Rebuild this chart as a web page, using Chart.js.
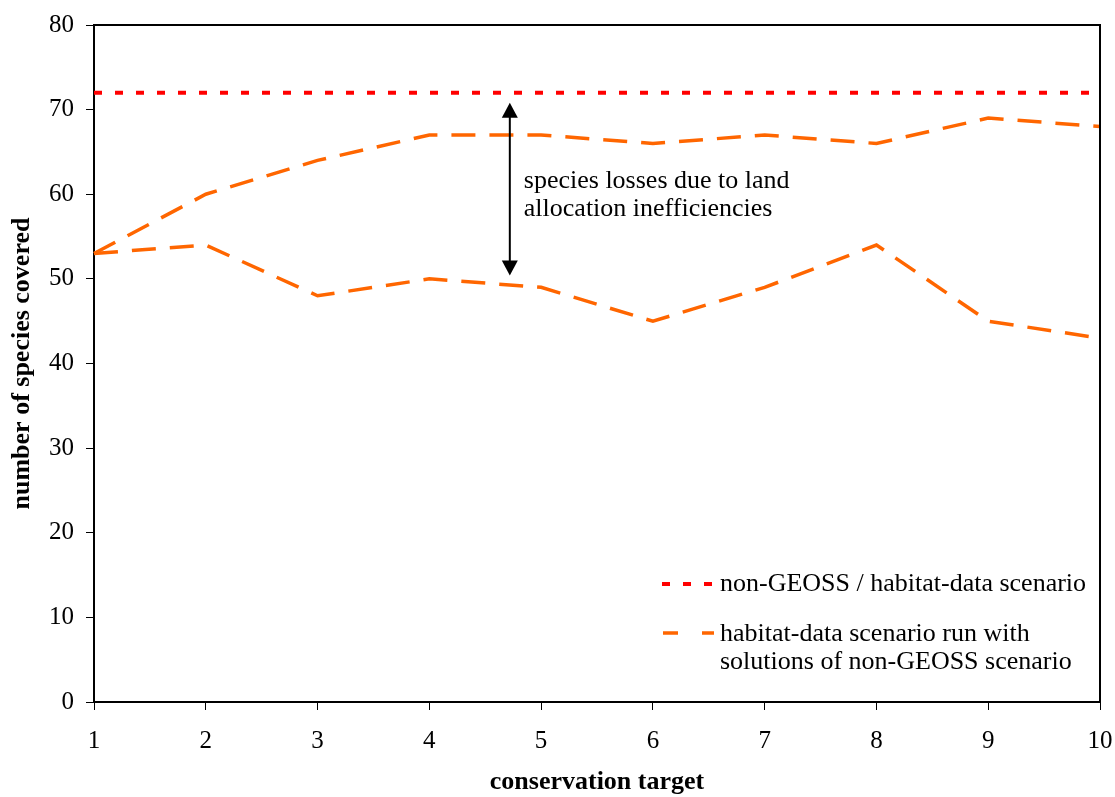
<!DOCTYPE html>
<html>
<head>
<meta charset="utf-8">
<script src="https://cdn.jsdelivr.net/npm/chart.js@4/dist/chart.umd.min.js"></script>
<style>
  html, body { margin: 0; padding: 0; background: #fff; overflow: hidden; }
  #wrap { width: 1115px; height: 797px; }
  canvas { display: block; }
</style>
</head>
<body>
<div id="wrap"><canvas id="chart"></canvas></div>
<script>
// --- DATA ---
const targets = ['1', '2', '3', '4', '5', '6', '7', '8', '9', '10'];
const nonGeoss = [72, 72, 72, 72, 72, 72, 72, 72, 72, 72];
const habitatUpper = [53, 60, 64, 67, 67, 66, 67, 66, 69, 68];
const habitatLower = [53, 54, 48, 50, 49, 45, 49, 54, 45, 43];
const yTicks = [0, 10, 20, 30, 40, 50, 60, 70, 80];

// annotation arrow, in data units
const arrowX = 4.72;
const arrowTop = 70.8;
const arrowBottom = 50.4;

const RED = '#ff0000';
const ORANGE = '#ff6600';
const FONT = '"Liberation Serif", "Times New Roman", serif';

// --- PLUGIN: frame, arrow, note, legend, titles ---
const decor = {
    id: 'decor',
    afterDraw(chart) {
        const { ctx, chartArea: a, scales: { x, y } } = chart;
        ctx.save();

        // box round plot area
        ctx.strokeStyle = '#000';
        ctx.lineWidth = 2;
        ctx.beginPath();
        ctx.moveTo(a.left, a.top);
        ctx.lineTo(a.right, a.top);
        ctx.lineTo(a.right, a.bottom);
        ctx.stroke();

        // double arrow
        const xi = x.getPixelForValue(0) + (arrowX - 1) * (x.getPixelForValue(1) - x.getPixelForValue(0));
        const yt = y.getPixelForValue(arrowTop);
        const yb = y.getPixelForValue(arrowBottom);
        ctx.lineWidth = 2;
        ctx.beginPath();
        ctx.moveTo(xi, yt + 10);
        ctx.lineTo(xi, yb - 10);
        ctx.stroke();
        ctx.fillStyle = '#000';
        ctx.beginPath();
        ctx.moveTo(xi, yt); ctx.lineTo(xi - 8, yt + 15); ctx.lineTo(xi + 8, yt + 15);
        ctx.closePath(); ctx.fill();
        ctx.beginPath();
        ctx.moveTo(xi, yb); ctx.lineTo(xi - 8, yb - 15); ctx.lineTo(xi + 8, yb - 15);
        ctx.closePath(); ctx.fill();

        // note text
        ctx.font = '26px ' + FONT;
        ctx.textAlign = 'left';
        ctx.textBaseline = 'middle';
        ctx.fillText('species losses due to land', xi + 14, 181);
        ctx.fillText('allocation inefficiencies', xi + 14, 209);

        // legend
        ctx.lineWidth = 4;
        ctx.strokeStyle = RED;
        ctx.setLineDash([8, 13]);
        ctx.beginPath(); ctx.moveTo(662, 584); ctx.lineTo(714, 584); ctx.stroke();
        ctx.lineWidth = 3.5;
        ctx.strokeStyle = ORANGE;
        ctx.setLineDash([15, 24]);
        ctx.beginPath(); ctx.moveTo(663, 633); ctx.lineTo(714, 633); ctx.stroke();
        ctx.setLineDash([]);
        ctx.fillStyle = '#000';
        ctx.fillText('non-GEOSS / habitat-data scenario', 720, 584);
        ctx.fillText('habitat-data scenario run with', 720, 634);
        ctx.fillText('solutions of non-GEOSS scenario', 720, 662);

        // axis titles
        ctx.font = 'bold 26px ' + FONT;
        ctx.textAlign = 'center';
        ctx.fillText('conservation target', (a.left + a.right) / 2, 782);
        ctx.translate(22, (a.top + a.bottom) / 2);
        ctx.rotate(-Math.PI / 2);
        ctx.fillText('number of species covered', 0, 0);

        ctx.restore();
    }
};

new Chart(document.getElementById('chart'), {
    type: 'line',
    data: {
        labels: targets,
        datasets: [
            {
                label: 'non-GEOSS / habitat-data scenario',
                data: nonGeoss,
                borderColor: RED,
                borderWidth: 4,
                borderDash: [8, 13],
                pointRadius: 0,
                fill: false,
                tension: 0
            },
            {
                label: 'habitat-data scenario run with solutions of non-GEOSS scenario',
                data: habitatUpper,
                borderColor: ORANGE,
                borderWidth: 3.5,
                borderDash: [24, 14],
                pointRadius: 0,
                fill: false,
                tension: 0
            },
            {
                label: 'habitat-data scenario (lower)',
                data: habitatLower,
                borderColor: ORANGE,
                borderWidth: 3.5,
                borderDash: [24, 14],
                pointRadius: 0,
                fill: false,
                tension: 0
            }
        ]
    },
    options: {
        responsive: true,
        maintainAspectRatio: false,
        animation: false,
        layout: { padding: { top: 25, right: 15, left: 0, bottom: 0 } },
        plugins: {
            legend: { display: false },
            tooltip: { enabled: false }
        },
        scales: {
            x: {
                offset: false,
                grid: { drawOnChartArea: false, drawTicks: true, tickLength: 8, color: '#000', lineWidth: 1 },
                border: { color: '#000', width: 2 },
                ticks: { color: '#000', font: { family: FONT, size: 25 }, padding: 16, maxRotation: 0 },
                afterFit(scale) {
                    scale.height = 95;
                    scale.paddingLeft = 0;
                    scale.paddingRight = 0;
                }
            },
            y: {
                min: 0,
                max: 80,
                afterBuildTicks(scale) { scale.ticks = yTicks.map(v => ({ value: v })); },
                grid: { drawOnChartArea: false, drawTicks: true, tickLength: 8, color: '#000', lineWidth: 1 },
                border: { color: '#000', width: 2 },
                ticks: { color: '#000', font: { family: FONT, size: 25 }, padding: 12 },
                afterFit(scale) {
                    scale.width = 94;
                    scale.paddingTop = 0;
                    scale.paddingBottom = 0;
                }
            }
        }
    },
    plugins: [decor]
});
</script>
</body>
</html>
